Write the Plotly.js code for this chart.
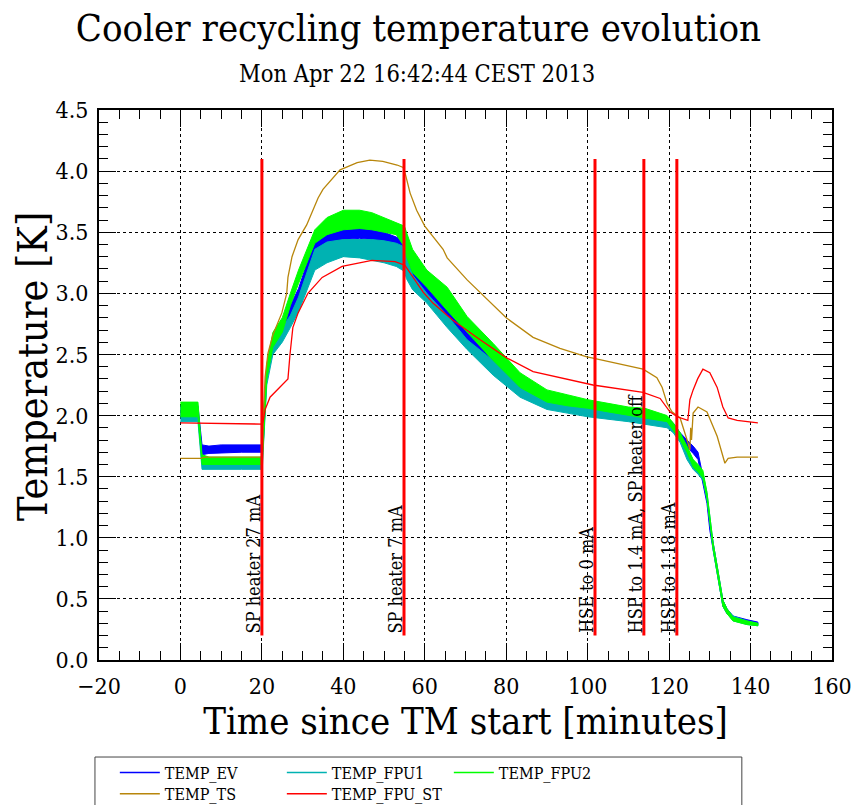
<!DOCTYPE html>
<html>
<head>
<meta charset="utf-8">
<script src="https://cdn.plot.ly/plotly-3.0.1.min.js"></script>
<style>
  html, body { margin: 0; padding: 0; background: #ffffff; }
  #chart { width: 854px; height: 805px; }
</style>
</head>
<body>
<div id="chart"></div>
<script>
// ---- Data ----
// Noisy sensors (EV, FPU1, FPU2): lower and upper envelope of the noise band
var noisyTime = [0, 4.3, 5.3, 7, 10, 15, 20.1, 20.3, 21.2, 22.7, 25, 27, 29, 33, 36, 40, 44, 47, 50, 53, 55, 55.5, 57, 60.5, 65.5, 70.4, 76.8, 83.4, 90, 95, 100, 105, 110, 114, 119.5, 121, 122.7, 124.4, 125.9, 127.1, 128.3, 129.3, 130, 130.8, 131.8, 132.5, 133.2, 134.2, 135.7, 139.1, 141.8];

var evLow   = [2.00, 2.00, 1.68, 1.69, 1.69, 1.70, 1.70, 1.75, 2.30, 2.55, 2.65, 2.80, 2.93, 3.30, 3.38, 3.44, 3.45, 3.44, 3.42, 3.38, 3.33, 3.28, 3.11, 3.00, 2.78, 2.59, 2.37, 2.19, 2.07, 2.05, 2.03, 2.01, 1.98, 1.95, 1.93, 1.88, 1.80, 1.74, 1.69, 1.64, 1.44, 1.28, 1.06, 0.90, 0.72, 0.58, 0.44, 0.38, 0.33, 0.30, 0.29];
var evHigh  = [2.08, 2.08, 1.76, 1.75, 1.76, 1.76, 1.76, 1.95, 2.40, 2.65, 2.75, 2.90, 3.04, 3.44, 3.50, 3.52, 3.53, 3.52, 3.50, 3.46, 3.43, 3.38, 3.19, 3.07, 2.89, 2.68, 2.48, 2.31, 2.15, 2.12, 2.10, 2.07, 2.04, 2.00, 1.98, 1.94, 1.86, 1.80, 1.75, 1.70, 1.50, 1.34, 1.12, 0.96, 0.77, 0.63, 0.49, 0.42, 0.36, 0.33, 0.31];

var fpu1Low  = [1.95, 1.95, 1.56, 1.56, 1.56, 1.56, 1.56, 1.70, 2.25, 2.50, 2.60, 2.72, 2.85, 3.19, 3.25, 3.30, 3.29, 3.27, 3.25, 3.22, 3.18, 3.12, 3.03, 2.92, 2.72, 2.54, 2.33, 2.15, 2.05, 2.02, 1.99, 1.97, 1.95, 1.93, 1.90, 1.86, 1.78, 1.64, 1.56, 1.52, 1.47, 1.31, 1.12, 0.90, 0.72, 0.58, 0.44, 0.38, 0.32, 0.29, 0.28];
var fpu1High = [2.07, 2.07, 1.65, 1.65, 1.65, 1.65, 1.65, 1.90, 2.38, 2.62, 2.72, 2.82, 2.97, 3.36, 3.42, 3.44, 3.44, 3.44, 3.43, 3.41, 3.38, 3.30, 3.15, 3.00, 2.82, 2.62, 2.45, 2.23, 2.13, 2.10, 2.07, 2.05, 2.02, 2.00, 1.96, 1.93, 1.86, 1.72, 1.64, 1.58, 1.53, 1.37, 1.18, 0.96, 0.77, 0.63, 0.49, 0.42, 0.36, 0.32, 0.30];

var fpu2Low  = [1.99, 1.99, 1.60, 1.60, 1.60, 1.60, 1.60, 1.75, 2.30, 2.56, 2.68, 2.90, 3.08, 3.41, 3.48, 3.52, 3.53, 3.52, 3.50, 3.48, 3.38, 3.30, 3.17, 3.05, 2.86, 2.68, 2.45, 2.23, 2.11, 2.08, 2.06, 2.03, 2.00, 1.98, 1.95, 1.88, 1.80, 1.70, 1.58, 1.54, 1.49, 1.32, 1.13, 0.91, 0.72, 0.58, 0.44, 0.38, 0.32, 0.29, 0.28];
var fpu2High = [2.11, 2.11, 1.68, 1.66, 1.66, 1.66, 1.66, 1.95, 2.42, 2.68, 2.80, 3.00, 3.19, 3.52, 3.62, 3.68, 3.68, 3.66, 3.62, 3.58, 3.55, 3.50, 3.36, 3.19, 3.05, 2.81, 2.59, 2.35, 2.21, 2.17, 2.13, 2.10, 2.07, 2.06, 2.00, 1.94, 1.86, 1.75, 1.64, 1.60, 1.55, 1.37, 1.18, 0.96, 0.77, 0.63, 0.49, 0.42, 0.35, 0.32, 0.30];

// TEMP_TS (thermal shunt)
var tsTime = [0, 5, 6, 10, 20.1, 20.3, 20.8, 21.5, 22.7, 24.9, 26.1, 26.4, 26.9, 27.4, 28.9, 31.0, 33.8, 35.0, 39.2, 43.4, 46.5, 49.7, 53.2, 54.7, 55.2, 56.4, 58.0, 59.2, 59.6, 60.0, 64.5, 65.5, 70.4, 75.3, 80.0, 86.6, 93.2, 99.8, 101.3, 113.6, 117.0, 118.3, 119.5, 120.7, 122.7, 124.6, 125.1, 125.3, 125.5, 125.9, 127.1, 129.3, 131.8, 133.7, 134.5, 136.7, 141.8];
var tsTemp = [1.65, 1.65, 1.66, 1.66, 1.66, 1.95, 2.32, 2.51, 2.66, 2.84, 3.00, 3.13, 3.22, 3.30, 3.44, 3.56, 3.78, 3.85, 4.01, 4.07, 4.09, 4.08, 4.05, 4.03, 3.98, 3.82, 3.68, 3.60, 3.58, 3.55, 3.36, 3.29, 3.11, 2.95, 2.80, 2.64, 2.55, 2.48, 2.47, 2.38, 2.31, 2.23, 2.10, 2.03, 1.98, 1.78, 1.72, 1.90, 1.80, 2.02, 2.07, 2.03, 1.83, 1.61, 1.65, 1.66, 1.66];

// TEMP_FPU_ST
var stTime = [0, 10, 20.1, 20.3, 20.8, 22.0, 24.4, 26.4, 26.9, 27.6, 28.9, 31.3, 34.8, 39.7, 47.0, 52.7, 55.1, 57.6, 59.6, 62.0, 66.9, 73.6, 80.2, 86.6, 93.2, 101.3, 113.6, 117.8, 120.2, 122.0, 124.6, 125.1, 125.9, 127.0, 128.3, 130.0, 131.8, 133.2, 134.5, 136.7, 141.8];
var stTemp = [1.94, 1.935, 1.93, 1.95, 2.05, 2.15, 2.23, 2.30, 2.50, 2.72, 2.84, 3.00, 3.13, 3.22, 3.27, 3.26, 3.23, 3.11, 3.01, 2.92, 2.78, 2.62, 2.47, 2.36, 2.31, 2.25, 2.19, 2.14, 2.03, 1.99, 1.96, 2.13, 2.21, 2.30, 2.38, 2.35, 2.23, 2.07, 1.98, 1.96, 1.94];

// Event markers
var markerTime = [20.0, 54.9, 101.8, 113.8, 121.9];
var markerLabels = ["SP heater 27 mA", "SP heater 7 mA", "HSE to 0 mA", "HSP to 1.4 mA, SP heater off", "HSP to 1.18 mA"];
var markerBottom = 0.2;
var markerTop = 4.1;

var seriesNames = ["TEMP_EV", "TEMP_FPU1", "TEMP_FPU2", "TEMP_TS", "TEMP_FPU_ST"];
var seriesColors = ["#0000ff", "#00b2b2", "#00ff00", "#b8860b", "#ff0000"];

var titleText = "Cooler recycling temperature evolution";
var subtitleText = "Mon Apr 22 16:42:44 CEST 2013";
var xTitle = "Time since TM start [minutes]";
var yTitle = "Temperature [K]";
var xTickVals = [-20, 0, 20, 40, 60, 80, 100, 120, 140, 160];
var yTickVals = [0, 0.5, 1, 1.5, 2, 2.5, 3, 3.5, 4, 4.5];

// ---- Build traces ----
var FONT = "DejaVu Serif Condensed, DejaVu Serif, serif";

function band(lo, hi, color) {
  var x = noisyTime.concat(noisyTime.slice().reverse());
  var y = hi.concat(lo.slice().reverse());
  return {
    x: x, y: y, type: "scatter", mode: "lines", fill: "toself",
    fillcolor: color, line: {color: color, width: 1},
    showlegend: false, hoverinfo: "skip"
  };
}

var traces = [];
traces.push(band(evLow, evHigh, seriesColors[0]));
traces.push(band(fpu1Low, fpu1High, seriesColors[1]));
traces.push(band(fpu2Low, fpu2High, seriesColors[2]));
traces.push({x: tsTime, y: tsTemp, type: "scatter", mode: "lines", line: {color: seriesColors[3], width: 1.3}, showlegend: false});
traces.push({x: stTime, y: stTemp, type: "scatter", mode: "lines", line: {color: seriesColors[4], width: 1.3}, showlegend: false});

// event markers
var mx = [], my = [];
markerTime.forEach(function (t) { mx.push(t, t, null); my.push(markerBottom, markerTop, null); });
traces.push({x: mx, y: my, type: "scatter", mode: "lines", line: {color: "#ff0000", width: 3}, showlegend: false});

// legend entries: row 1 in legend, row 2 in legend2
for (var i = 0; i < seriesNames.length; i++) {
  traces.push({
    x: [null], y: [null], type: "scatter", mode: "lines",
    name: seriesNames[i], line: {color: seriesColors[i], width: 1.5},
    legend: i < 3 ? "legend" : "legend2", legendrank: i + 1
  });
}

var annotations = markerTime.map(function (t, k) {
  return {
    x: t, y: markerBottom, xref: "x", yref: "y", text: markerLabels[k],
    showarrow: false, textangle: -90, xanchor: "right", yanchor: "bottom",
    xshift: 4, font: {family: FONT, size: 18, color: "#000"}
  };
});
annotations.push({
  text: subtitleText, xref: "paper", yref: "paper", x: 0.434, y: 1.0655,
  xanchor: "center", yanchor: "middle", showarrow: false,
  font: {family: FONT, size: 23.5, color: "#000"}
});
// y-axis title (placed as annotation to match the reference position)
annotations.push({
  text: yTitle, xref: "paper", yref: "paper", x: -0.09, y: 0.5327,
  xanchor: "center", yanchor: "middle", showarrow: false, textangle: -90,
  font: {family: FONT, size: 41, color: "#000"}
});

var axisCommon = {
  showline: true, linecolor: "#000", linewidth: 2, mirror: "allticks",
  ticks: "inside", ticklen: 17, tickwidth: 1, tickcolor: "#000",
  showgrid: true, gridcolor: "#000", gridwidth: 1, griddash: "dot",
  zeroline: false, tickfont: {family: FONT, size: 23, color: "#000"},
  automargin: false
};

var layout = {
  width: 854, height: 805,
  paper_bgcolor: "#fff", plot_bgcolor: "#fff",
  margin: {l: 99, r: 22, t: 110, b: 145, autoexpand: false},
  showlegend: true,
  title: {
    text: titleText, x: 0.49, xref: "container", xanchor: "center",
    y: 1 - 28 / 805, yref: "container", yanchor: "middle",
    font: {family: FONT, size: 38, color: "#000"}
  },
  xaxis: Object.assign({}, axisCommon, {
    range: [-20, 160], tickmode: "array", tickvals: xTickVals,
    ticklabelstandoff: 4,
    minor: {dtick: 5, ticklen: 9, tickcolor: "#000", ticks: "inside", showgrid: false},
    title: {text: xTitle, font: {family: FONT, size: 38, color: "#000"}, standoff: 10}
  }),
  yaxis: Object.assign({}, axisCommon, {
    range: [0, 4.5], tickmode: "array", tickvals: yTickVals,
    tickformat: ".1f", ticklabelstandoff: 4,
    minor: {dtick: 0.1, ticklen: 9, tickcolor: "#000", ticks: "inside", showgrid: false}
  }),
  legend: {
    orientation: "h", x: 0.0216, xanchor: "left", y: -0.174, yanchor: "top",
    bgcolor: "rgba(0,0,0,0)", borderwidth: 0, entrywidth: 112, entrywidthmode: "pixels",
    itemwidth: 40, font: {family: FONT, size: 16, color: "#000"}
  },
  legend2: {
    orientation: "h", x: 0.0216, xanchor: "left", y: -0.2125, yanchor: "top",
    bgcolor: "rgba(0,0,0,0)", borderwidth: 0, entrywidth: 112, entrywidthmode: "pixels",
    itemwidth: 40, font: {family: FONT, size: 16, color: "#000"}
  },
  shapes: [{
    type: "rect", xref: "paper", yref: "paper",
    x0: -0.0055, x1: 0.877, y0: -0.1764, y1: -0.32,
    line: {color: "#444", width: 1}, fillcolor: "rgba(0,0,0,0)", layer: "below"
  }],
  annotations: annotations
};

Plotly.newPlot("chart", traces, layout, {staticPlot: true, displayModeBar: false});
</script>
</body>
</html>
